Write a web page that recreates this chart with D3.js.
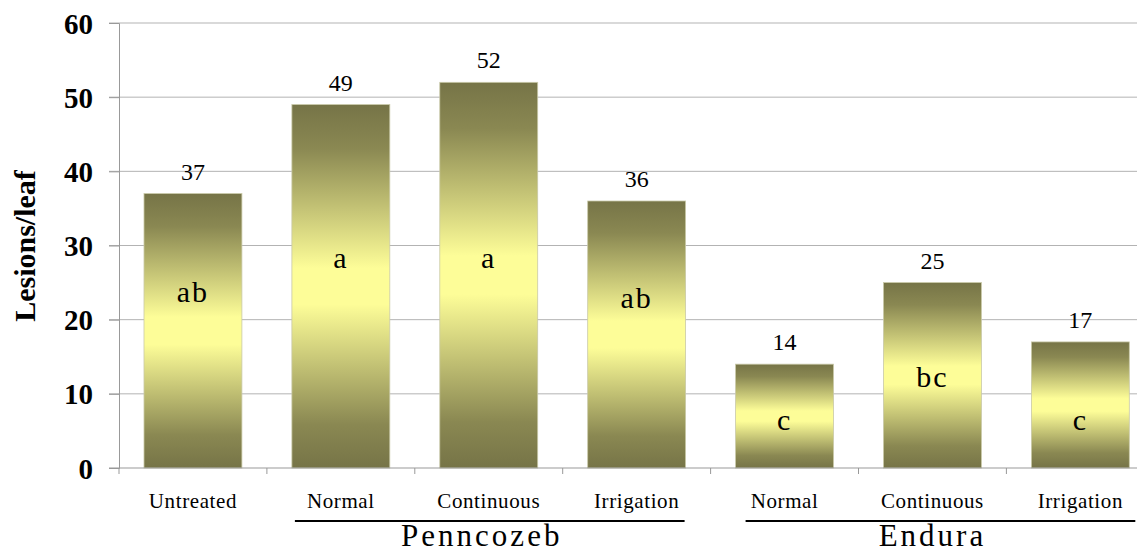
<!DOCTYPE html>
<html>
<head>
<meta charset="utf-8">
<script src="https://cdn.jsdelivr.net/npm/d3@7/dist/d3.min.js"></script>
<style>
  html, body { margin: 0; padding: 0; background: #fff; }
  svg { display: block; }
  svg text { font-family: "Liberation Serif", "Times New Roman", serif; fill: #000; }
</style>
</head>
<body>
<svg id="chart" width="1137" height="552"></svg>
<script>
// Lesions per leaf by treatment
const categories = ["Untreated", "Normal", "Continuous", "Irrigation", "Normal", "Continuous", "Irrigation"];
const lesions = [37, 49, 52, 36, 14, 25, 17];
const letters = ["ab", "a", "a", "ab", "c", "bc", "c"];
const groupNames = ["Penncozeb", "Endura"];
const groupFirst = [1, 4];
const groupLast = [3, 6];
const yTicks = [0, 10, 20, 30, 40, 50, 60];
const yTitle = "Lesions/leaf";

(function () {
const svg = d3.select("#chart");
const plotLeft = 119, plotTop = 23, plotBottom = 468;
const band = 147.9;

const x = d3.scaleBand()
  .domain(d3.range(categories.length))
  .range([plotLeft, plotLeft + band * categories.length])
  .paddingInner(0.338)
  .paddingOuter(0.169);

const y = d3.scaleLinear().domain([0, 60]).range([plotBottom, plotTop]);

// gradient fill for bars: dark olive at the edges, pale yellow in the middle
const defs = svg.append("defs");
const grad = defs.append("linearGradient")
  .attr("id", "barFill").attr("x1", 0).attr("y1", 0).attr("x2", 0).attr("y2", 1);
[[0, "#767447"], [0.12, "#8a8852"], [0.45, "#fdfd98"], [0.55, "#fdfd98"], [0.88, "#8a8852"], [1, "#767447"]]
  .forEach(([o, c]) => grad.append("stop").attr("offset", o).attr("stop-color", c));

// horizontal gridlines with left tick marks
svg.append("g").selectAll("line")
  .data(yTicks.filter(d => d > 0))
  .join("line")
  .attr("x1", plotLeft - 10).attr("x2", 1137)
  .attr("y1", d => y(d)).attr("y2", d => y(d))
  .attr("stroke", "#b3b3b3").attr("stroke-width", 1);

// y axis
const yAxis = svg.append("g")
  .attr("transform", `translate(${plotLeft},0)`)
  .call(d3.axisLeft(y).tickValues(yTicks).tickSize(10).tickPadding(16));
yAxis.attr("font-family", null).attr("font-size", null);
yAxis.select(".domain").attr("stroke", "#999");
yAxis.selectAll(".tick line").attr("stroke", "#999");
yAxis.selectAll(".tick text")
  .attr("font-size", 29).attr("font-weight", "bold")
  .attr("dy", "0.35em");

// y title
svg.append("text")
  .attr("transform", `translate(35,246) rotate(-90)`)
  .attr("text-anchor", "middle")
  .attr("font-size", 30).attr("font-weight", "bold")
  .text(yTitle);

// bars
svg.append("g").selectAll("rect")
  .data(lesions)
  .join("rect")
  .attr("x", (d, i) => x(i))
  .attr("width", x.bandwidth())
  .attr("y", d => y(d))
  .attr("height", d => y(0) - y(d))
  .attr("fill", "url(#barFill)")
  .attr("stroke", "#c9c9a8").attr("stroke-width", 0.8);

// x axis baseline and category tick marks
svg.append("line")
  .attr("x1", plotLeft - 10).attr("x2", 1137)
  .attr("y1", plotBottom).attr("y2", plotBottom)
  .attr("stroke", "#999");
svg.append("g").selectAll("line")
  .data(d3.range(categories.length + 1))
  .join("line")
  .attr("x1", i => plotLeft + band * i).attr("x2", i => plotLeft + band * i)
  .attr("y1", plotBottom).attr("y2", plotBottom + 6)
  .attr("stroke", "#999");

// value labels above bars
svg.append("g").selectAll("text")
  .data(lesions)
  .join("text")
  .attr("x", (d, i) => x(i) + x.bandwidth() / 2)
  .attr("y", d => y(d) - 14)
  .attr("text-anchor", "middle")
  .attr("font-size", 24)
  .text(d => d);

// significance letters inside bars
const letterLevel = [23.8, 28.4, 28.4, 23, 6.5, 12.3, 6.5];
svg.append("g").selectAll("text")
  .data(letters)
  .join("text")
  .attr("x", (d, i) => x(i) + x.bandwidth() / 2)
  .attr("y", (d, i) => y(letterLevel[i]))
  .attr("dy", "0.35em")
  .attr("text-anchor", "middle")
  .attr("font-size", 30)
  .style("letter-spacing", "2px")
  .text(d => d);

// category labels
svg.append("g").selectAll("text")
  .data(categories)
  .join("text")
  .attr("x", (d, i) => x(i) + x.bandwidth() / 2)
  .attr("y", 508)
  .attr("text-anchor", "middle")
  .attr("font-size", 21)
  .style("letter-spacing", "0.6px")
  .text(d => d);

// treatment group brackets and names
const lineStart = [3, 10], lineEnd = [-1, 6];
const g = svg.append("g").selectAll("g").data(groupNames).join("g");
const x1 = (d, i) => x(groupFirst[i]) + lineStart[i];
const x2 = (d, i) => x(groupLast[i]) + x.bandwidth() + lineEnd[i];
g.append("line")
  .attr("x1", x1).attr("x2", x2)
  .attr("y1", 521).attr("y2", 521)
  .attr("stroke", "#000").attr("stroke-width", 2);
g.append("text")
  .attr("x", (d, i) => (x1(d, i) + x2(d, i)) / 2 - 8)
  .attr("y", 546)
  .attr("text-anchor", "middle")
  .attr("font-size", 31)
  .style("letter-spacing", "3px")
  .text(d => d);
})();
</script>
</body>
</html>
